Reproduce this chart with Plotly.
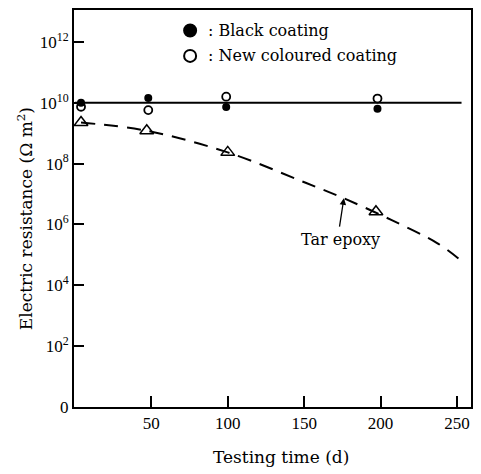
import numpy as np
import plotly.graph_objects as go

# Data (resistance in ohm m^2)
days = [4, 48, 99, 198]
black_log = [10.0, 10.16, 9.86, 9.80]
coloured_log = [9.87, 9.76, 10.20, 10.14]
tar_days = [4, 47, 100, 197]
tar_log = [9.35, 9.08, 8.37, 6.42]
tar_curve_days = [4, 47, 100, 151, 176, 207, 237, 252]
tar_curve_log = [9.35, 9.08, 8.37, 7.37, 6.86, 6.15, 5.39, 4.84]
level_days = [0, 253]
level_log = [10.0, 10.0]

x_ticks = [50, 100, 150, 200, 250]
y_tick_exp = [0, 2, 4, 6, 8, 10, 12]
y_tick_text = ["0"] + ["10<sup>%d</sup>" % e for e in y_tick_exp[1:]]

SERIF = "DejaVu Serif"
TICKFONT = "Liberation Serif"

def pw(v):
    return [10 ** a for a in v]

fig = go.Figure()
fig.add_trace(go.Scatter(x=level_days, y=pw(level_log), mode="lines",
                         line=dict(color="black", width=2), showlegend=False))
fig.add_trace(go.Scatter(x=tar_curve_days, y=pw(tar_curve_log), mode="lines",
                         line=dict(color="black", width=2, dash="14px,9px", shape="spline"),
                         showlegend=False))
fig.add_trace(go.Scatter(x=tar_days, y=pw(tar_log), mode="markers",
                         marker=dict(symbol="triangle-up-open", size=12, color="black",
                                     line=dict(width=1.5)), showlegend=False))
fig.add_trace(go.Scatter(x=days, y=pw(black_log), mode="markers",
                         marker=dict(symbol="circle", size=8, color="black"), showlegend=False))
fig.add_trace(go.Scatter(x=days, y=pw(coloured_log), mode="markers",
                         marker=dict(symbol="circle-open", size=8, color="black",
                                     line=dict(width=1.8)), showlegend=False))

L, R, T, B = 74, 8, 9, 67
W, H = 481, 474
pw_w = W - L - R
pw_h = H - T - B

def px(xp):
    return (xp - L) / pw_w

def py(yp):
    return (H - B - yp) / pw_h

# legend built from shapes + text
shapes = []
for (yy, filled) in [(29.5, True), (55, False)]:
    shapes.append(dict(type="circle", xref="paper", yref="paper",
                       xsizemode="pixel", ysizemode="pixel",
                       xanchor=px(190.7), yanchor=py(yy),
                       x0=-6, x1=6, y0=-6, y1=6,
                       fillcolor="black" if filled else "white",
                       line=dict(color="black", width=2)))

annotations = [
    dict(xref="paper", yref="paper", x=px(207), y=py(29.5), xanchor="left", yanchor="middle",
         text=": Black coating", showarrow=False, font=dict(family=SERIF, size=16, color="black")),
    dict(xref="paper", yref="paper", x=px(207), y=py(55), xanchor="left", yanchor="middle",
         text=": New coloured coating", showarrow=False, font=dict(family=SERIF, size=16, color="black")),
    dict(xref="x", yref="y", x=174, y=5.5, xanchor="center", yanchor="middle",
         text="Tar epoxy", showarrow=False, font=dict(family=SERIF, size=16, color="black")),
    dict(xref="x", yref="y", x=176, y=6.86, axref="x", ayref="y", ax=173, ay=5.88,
         text="", showarrow=True, arrowhead=2, arrowsize=1, arrowwidth=1.3, arrowcolor="black"),
    dict(xref="paper", yref="paper", x=px(282.5), y=py(457), xanchor="center", yanchor="middle",
         text="Testing time (d)", showarrow=False, font=dict(family=SERIF, size=17, color="black")),
    dict(xref="paper", yref="paper", x=px(25), y=py(218.5), xanchor="center", yanchor="middle",
         text="Electric resistance (Ω m<sup>2</sup>)",
         textangle=-90, showarrow=False, font=dict(family=SERIF, size=17, color="black")),
]

fig.update_layout(
    width=W, height=H,
    margin=dict(l=L, r=R, t=T, b=B),
    paper_bgcolor="white", plot_bgcolor="white",
    shapes=shapes, annotations=annotations,
    xaxis=dict(range=[-0.6, 259.2], tickmode="array", tickvals=x_ticks,
               ticks="inside", ticklen=11, tickwidth=2, tickcolor="black",
               showline=True, linecolor="black", linewidth=2, mirror=True,
               showgrid=False, zeroline=False,
               tickfont=dict(family=TICKFONT, size=17, color="black")),
    yaxis=dict(type="log", range=[0.0, 13.05], tickmode="array",
               tickvals=[10 ** e for e in y_tick_exp], ticktext=y_tick_text,
               ticks="inside", ticklen=10, tickwidth=2, tickcolor="black",
               showline=True, linecolor="black", linewidth=2, mirror=True,
               showgrid=False, zeroline=False,
               tickfont=dict(family=TICKFONT, size=17, color="black")),
)

fig.write_html("out.html", config={"displayModeBar": False},
               post_script="document.body.style.margin='0';document.body.style.padding='0';")
